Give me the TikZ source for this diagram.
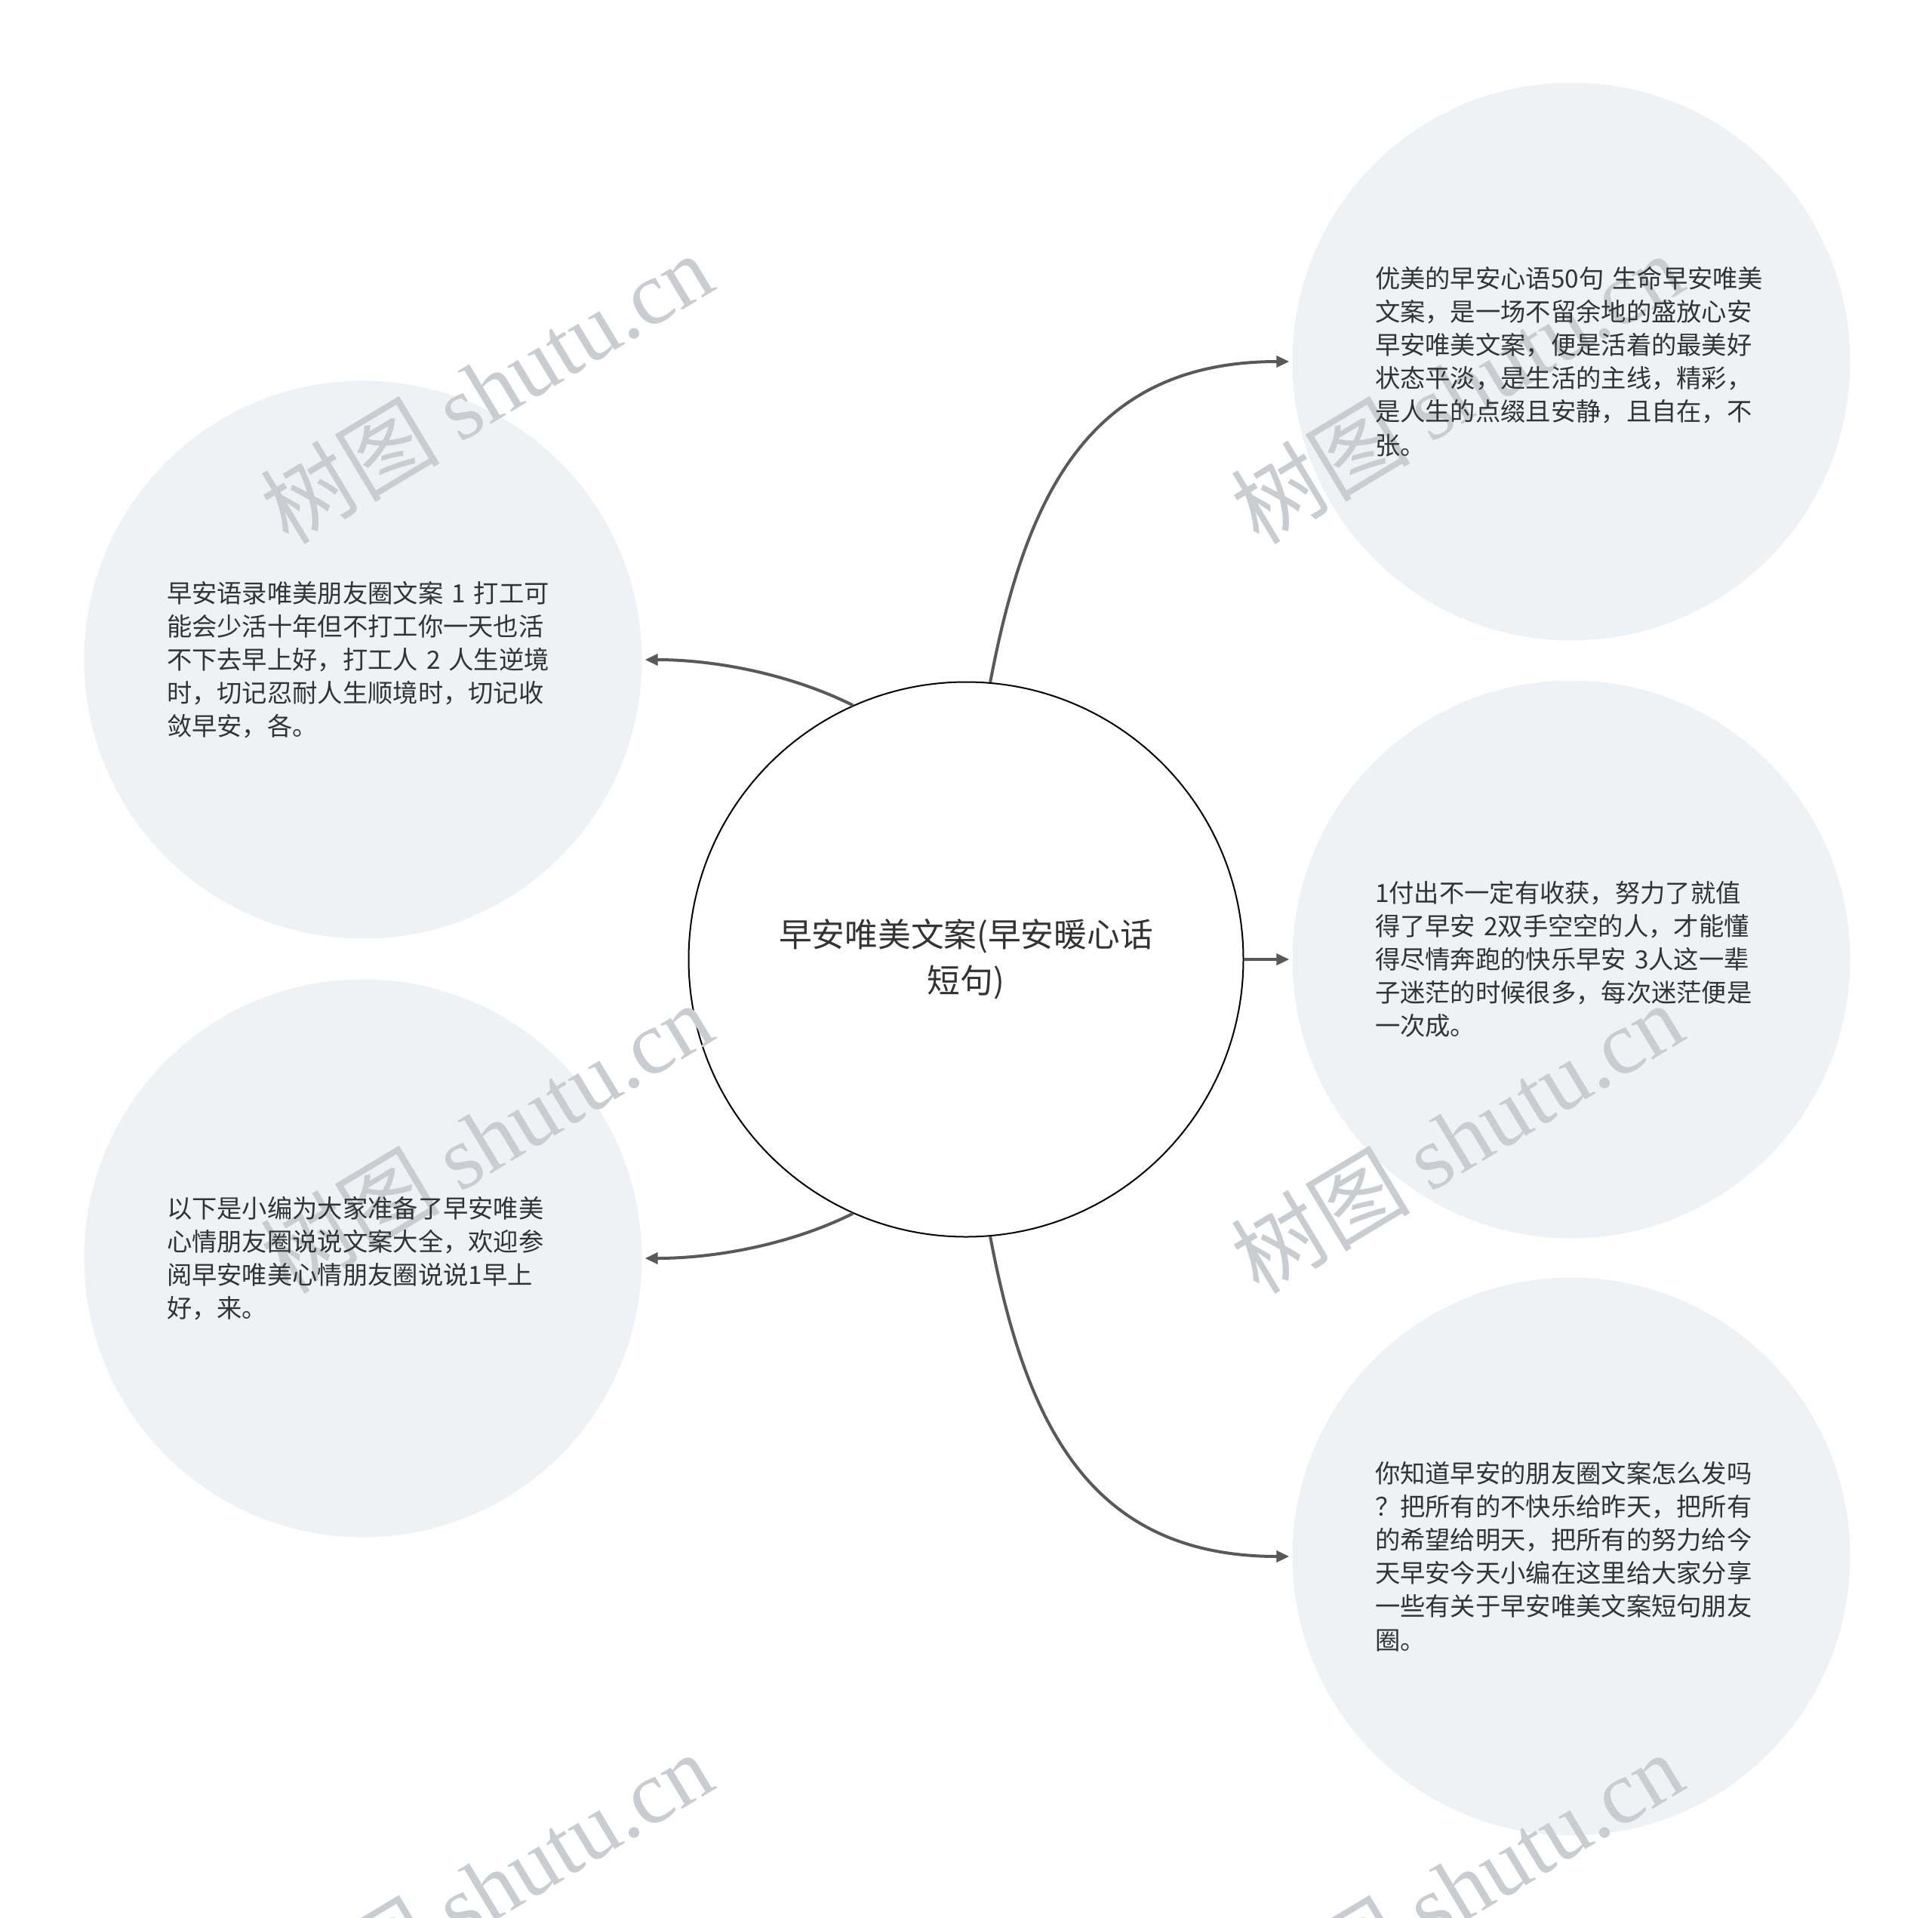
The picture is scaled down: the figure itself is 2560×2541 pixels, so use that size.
\documentclass[tikz,border=0pt]{standalone}
\usepackage{fontspec}
\setmainfont{Noto Sans CJK SC}
\newfontfamily\wmlatin{Liberation Serif}
\usetikzlibrary{arrows.meta}
\definecolor{leaffill}{HTML}{EFF2F5}
\definecolor{txt}{HTML}{333333}
\definecolor{linkc}{HTML}{595959}
\definecolor{wm}{HTML}{C9CDD1}
\begin{document}
\begin{tikzpicture}[x=1pt,y=-1pt,
  leaf/.style={circle, fill=leaffill, minimum size=739pt, inner sep=0pt},
  hub/.style={circle, draw=black, line width=2pt, fill=white, minimum size=735pt, inner sep=0pt, text=txt, font=\fontsize{43.7}{60.6}\selectfont, align=center},
  leaftext/.style={text=txt, font=\fontsize{33.3}{44.1}\selectfont, align=left, text width=520pt, inner sep=0pt},
  link/.style={draw=linkc, line width=4pt, shorten >=4pt, -{Triangle[length=17pt,width=15pt]}},
  wmark/.style={text=wm, rotate=31, font=\fontsize{119}{119}\selectfont, inner sep=0pt}]
\useasboundingbox (0,0) rectangle (2560,2541);
\clip (0,0) rectangle (2560,2541);
\fill[white] (0,0) rectangle (2560,2541);

% leaf circles
\node[leaf] (lt) at (481,874) {};
\node[leaf] (lb) at (481,1667) {};
\node[leaf] (rt) at (2082,479) {};
\node[leaf] (rm) at (2082,1271) {};
\node[leaf] (rb) at (2082,2062) {};

% central circle
\node[hub] (c) at (1280,1271) {早安唯美文案(早安暖心话\\短句)};

% watermarks
\node[wmark] (w1) at (644,514) {树图~{\wmlatin shutu.cn}};
\node[wmark] (w2) at (644,1507) {树图~{\wmlatin shutu.cn}};
\node[wmark] (w3) at (644,2500) {树图~{\wmlatin shutu.cn}};
\node[wmark] (w4) at (1930,514) {树图~{\wmlatin shutu.cn}};
\node[wmark] (w5) at (1930,1507) {树图~{\wmlatin shutu.cn}};
\node[wmark] (w6) at (1930,2500) {树图~{\wmlatin shutu.cn}};

% texts
\node[leaftext] (ltt) at (lt) {早安语录唯美朋友圈文案~1~打工可\\能会少活十年但不打工你一天也活\\不下去早上好，打工人~2~人生逆境\\时，切记忍耐人生顺境时，切记收\\敛早安，各。};
\node[leaftext] (lbt) at (lb) {以下是小编为大家准备了早安唯美\\心情朋友圈说说文案大全，欢迎参\\阅早安唯美心情朋友圈说说1早上\\好，来。};
\node[leaftext] (rtt) at (rt) {优美的早安心语50句~生命早安唯美\\文案，是一场不留余地的盛放心安\\早安唯美文案，便是活着的最美好\\状态平淡，是生活的主线，精彩，\\是人生的点缀且安静，且自在，不\\张。};
\node[leaftext] (rmt) at (rm) {1付出不一定有收获，努力了就值\\得了早安~2双手空空的人，才能懂\\得尽情奔跑的快乐早安~3人这一辈\\子迷茫的时候很多，每次迷茫便是\\一次成。};
\node[leaftext] (rbt) at (rb) {你知道早安的朋友圈文案怎么发吗\\？把所有的不快乐给昨天，把所有\\的希望给明天，把所有的努力给今\\天早安今天小编在这里给大家分享\\一些有关于早安唯美文案短句朋友\\圈。};

% connectors
\draw[link] (c.85) .. controls +(47,-248) and +(-269,0) .. (rt.west);
\draw[link] (c.east) -- (rm.west);
\draw[link] (c.275) .. controls +(47,248) and +(-269,0) .. (rb.west);
\draw[link] (c.114) .. controls +(-80,-40) and +(100,0) .. (lt.east);
\draw[link] (c.246) .. controls +(-80,40) and +(100,0) .. (lb.east);
\end{tikzpicture}
\end{document}
